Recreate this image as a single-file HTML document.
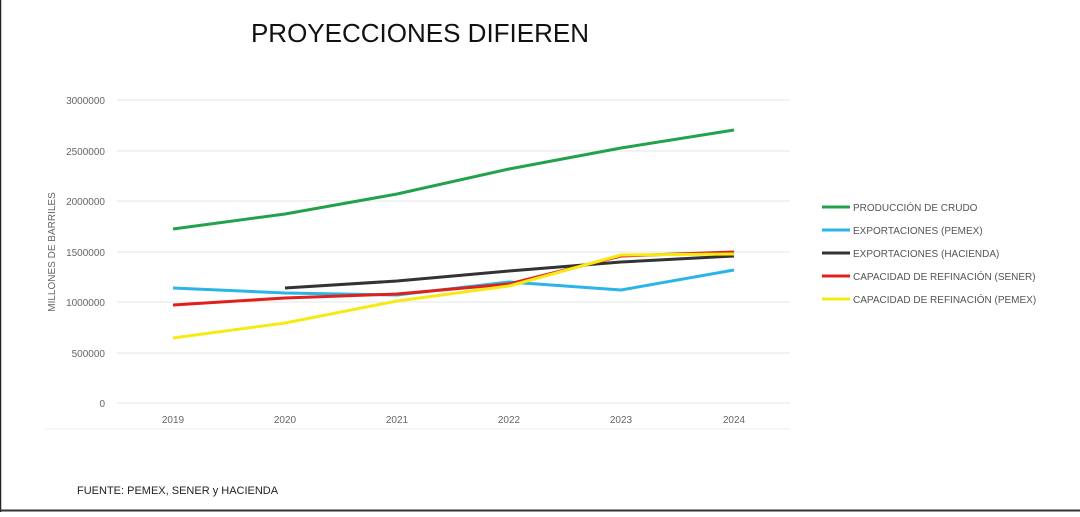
<!DOCTYPE html>
<html><head><meta charset="utf-8"><style>
body{margin:0;width:1080px;height:512px;background:#fff;overflow:hidden;font-family:"Liberation Sans",sans-serif}
</style></head><body>
<svg width="1080" height="512" xmlns="http://www.w3.org/2000/svg" font-family="Liberation Sans, sans-serif">
<rect width="1080" height="512" fill="#fff"/>
<line x1="0.5" y1="0" x2="0.5" y2="512" stroke="#222" stroke-width="1.5"/>
<line x1="0" y1="510.5" x2="1080" y2="510.5" stroke="#333" stroke-width="2"/>
<text x="420" y="42" font-size="26" text-anchor="middle" fill="#111">PROYECCIONES DIFIEREN</text>
<g stroke="#e4e4e4" stroke-width="1">
<line x1="117" y1="100" x2="790" y2="100"/><line x1="117" y1="151" x2="790" y2="151"/>
<line x1="117" y1="201" x2="790" y2="201"/><line x1="117" y1="252" x2="790" y2="252"/>
<line x1="117" y1="302" x2="790" y2="302"/><line x1="117" y1="353" x2="790" y2="353"/>
<line x1="117" y1="403" x2="790" y2="403"/>
<line x1="45" y1="429" x2="790" y2="429" stroke="#eee"/>
</g>
<g font-size="10" fill="#666" text-anchor="end">
<text x="105" y="104">3000000</text><text x="105" y="155">2500000</text>
<text x="105" y="205">2000000</text><text x="105" y="256">1500000</text>
<text x="105" y="306">1000000</text><text x="105" y="357">500000</text>
<text x="105" y="407">0</text>
</g>
<g font-size="10" fill="#666" text-anchor="middle">
<text x="173" y="423">2019</text><text x="285" y="423">2020</text><text x="397" y="423">2021</text>
<text x="509" y="423">2022</text><text x="621" y="423">2023</text><text x="734" y="423">2024</text>
</g>
<text transform="translate(55,252) rotate(-90)" font-size="10" fill="#666" text-anchor="middle">MILLONES DE BARRILES</text>
<g fill="none" stroke-width="3" stroke-linejoin="round">
<polyline stroke="#23a24d" points="173,229 285,214 397,194 509,169 621,148 734,130"/>
<polyline stroke="#2ab4e8" points="173,288 285,293 397,295 509,282 621,290 734,270"/>
<polyline stroke="#333" points="285,288 397,281 509,271 621,262 734,256"/>
<polyline stroke="#e0201c" points="173,305 285,298 397,294 509,284 621,256 734,252"/>
<polyline stroke="#f5ea14" points="173,338 285,323 397,301 509,286 621,255 734,254"/>
</g>
<g stroke-width="3">
<line x1="822" y1="207" x2="850" y2="207" stroke="#23a24d"/>
<line x1="822" y1="230" x2="850" y2="230" stroke="#2ab4e8"/>
<line x1="822" y1="253" x2="850" y2="253" stroke="#333"/>
<line x1="822" y1="276" x2="850" y2="276" stroke="#e0201c"/>
<line x1="822" y1="299" x2="850" y2="299" stroke="#f5ea14"/>
</g>
<g font-size="10" fill="#555">
<text x="853" y="211">PRODUCCIÓN DE CRUDO</text>
<text x="853" y="234">EXPORTACIONES (PEMEX)</text>
<text x="853" y="257">EXPORTACIONES (HACIENDA)</text>
<text x="853" y="280">CAPACIDAD DE REFINACIÓN (SENER)</text>
<text x="853" y="303">CAPACIDAD DE REFINACIÓN (PEMEX)</text>
</g>
<text x="77" y="494" font-size="11" fill="#222">FUENTE: PEMEX, SENER y HACIENDA</text>
</svg>
</body></html>
